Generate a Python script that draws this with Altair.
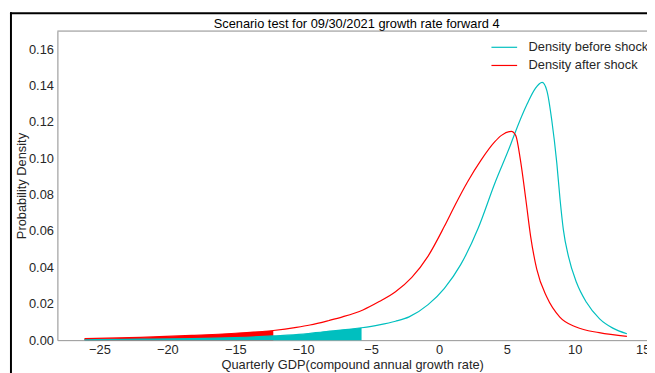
import altair as alt
import pandas as pd

# ---- data ----
series_names = ["Density before shock", "Density after shock"]
series_colors = ["#00BFBF", "#FF0000"]
tail_cutoffs = [-5.7, -12.2]  # shaded left tail end for each series

before_x = [-26.1, -22.0, -18.2, -15.0, -12.2, -10.0, -8.5, -5.7, -4.4, -3.2, -2.2, -0.8,
            0.4, 1.6, 2.9, 4.1, 5.3, 5.5, 6.5, 7.1, 7.6, 7.95, 8.31, 8.68, 8.92, 9.16, 9.53,
            10.13, 10.86, 11.83, 12.8, 13.84]
before_y = [0.0003, 0.0005, 0.0008, 0.0014, 0.0023, 0.0033, 0.0046, 0.0068, 0.0084, 0.0104,
            0.0128, 0.0195, 0.0285, 0.0415, 0.0618, 0.0860, 0.1080, 0.1120, 0.1300, 0.1385,
            0.1417, 0.1371, 0.1208, 0.0972, 0.0772, 0.0608, 0.0462, 0.0317, 0.0208, 0.0117,
            0.0066, 0.0035]

after_x = [-26.1, -22.0, -18.2, -15.0, -12.2, -10.5, -9.5, -8.1, -7.1, -5.6, -4.4, -3.2,
           -2.0, -0.8, 0.4, 1.2, 2.1, 3.1, 4.1, 4.6, 5.33, 5.65, 6.0, 6.4, 6.75, 7.2, 7.95,
           8.9, 10.1, 11.8, 13.84]
after_y = [0.0008, 0.0015, 0.0026, 0.0038, 0.0053, 0.0070, 0.0083, 0.0108, 0.0128, 0.0166,
           0.0212, 0.0266, 0.0345, 0.0462, 0.0626, 0.0745, 0.0870, 0.0990, 0.1090, 0.1126,
           0.1148, 0.1126, 0.0990, 0.0772, 0.0571, 0.0390, 0.0236, 0.0127, 0.0072, 0.0041,
           0.0021]

x_ticks = [-25, -20, -15, -10, -5, 0, 5, 10, 15]
y_ticks = [0.0, 0.02, 0.04, 0.06, 0.08, 0.10, 0.12, 0.14, 0.16]

df = pd.concat([
    pd.DataFrame({"x": before_x, "y": before_y, "series": series_names[0]}),
    pd.DataFrame({"x": after_x, "y": after_y, "series": series_names[1]}),
], ignore_index=True)

FONT = "Liberation Sans"
SPINE = "#9a9a9a"
TXT = "#262626"

x_enc = alt.X("x:Q",
              scale=alt.Scale(domain=[-28.1, 15.32], nice=False, zero=False),
              axis=alt.Axis(values=x_ticks, format="d", title="Quarterly GDP(compound annual growth rate)",
                            grid=False, ticks=False, labelPadding=4, domainColor=SPINE,
                            labelFont=FONT, labelFontSize=13, labelColor=TXT,
                            titleFont=FONT, titleFontSize=13, titleFontWeight="normal",
                            titleColor=TXT, titleY=25, titleBaseline="middle",
                            labelFlush=False))
y_enc = alt.Y("y:Q",
              scale=alt.Scale(domain=[0, 0.17], nice=False),
              axis=alt.Axis(values=y_ticks, format=".2f", title="Probability Density",
                            grid=False, ticks=False, labelPadding=4, domainColor=SPINE,
                            labelFont=FONT, labelFontSize=13, labelColor=TXT,
                            titleFont=FONT, titleFontSize=13, titleFontWeight="normal",
                            titleColor=TXT, titleX=-36, titleY=156.5, titleAngle=270,
                            titleAlign="center", titleBaseline="middle"))

base = alt.Chart(df)

area_after = base.transform_filter(
    f"datum.series == '{series_names[1]}' && datum.x <= {tail_cutoffs[1]}"
).mark_area(interpolate="monotone", color=series_colors[1], opacity=1).encode(x=x_enc, y=y_enc)

area_before = base.transform_filter(
    f"datum.series == '{series_names[0]}' && datum.x <= {tail_cutoffs[0]}"
).mark_area(interpolate="monotone", color=series_colors[0], opacity=1).encode(x=x_enc, y=y_enc)

lines = base.mark_line(interpolate="monotone", strokeWidth=1.2).encode(
    x=x_enc, y=y_enc,
    color=alt.Color("series:N",
                    scale=alt.Scale(domain=series_names, range=series_colors),
                    legend=alt.Legend(title=None, orient="none", legendX=445, legendY=9,
                                      symbolType="M-2,0H2", symbolSize=169, symbolStrokeWidth=1.2,
                                      symbolFillColor="transparent",
                                      labelFont=FONT, labelFontSize=13, labelColor=TXT,
                                      labelOffset=17, rowPadding=3.4, padding=0)),
    detail="series:N",
)

one = alt.Data(values=[{"k": 1}])
top_spine = alt.Chart(one).mark_rule(color=SPINE, strokeWidth=1).encode(
    x=alt.value(0), x2=alt.value(620), y=alt.value(0))
frame_top = alt.Chart(one).mark_rule(color="#000000", strokeWidth=2).encode(
    x=alt.value(-48), x2=alt.value(620), y=alt.value(-18))
frame_left = alt.Chart(one).mark_rule(color="#000000", strokeWidth=2).encode(
    x=alt.value(-47), y=alt.value(-19), y2=alt.value(360))

chart = alt.layer(area_after, area_before, lines, top_spine, frame_top, frame_left).properties(
    width=597, height=313,
    autosize=alt.AutoSizeParams(type="none"),
    padding={"left": 50, "top": 21, "right": 0, "bottom": 31},
    title=alt.TitleParams(text="Scenario test for 09/30/2021 growth rate forward 4",
                          font=FONT, fontSize=13, fontWeight="normal", color="#000000",
                          anchor="middle", frame="group", offset=1, dx=4.5, dy=21),
).configure_view(stroke=None).configure(background="white")

chart.save("out.html", embed_options={"renderer": "svg", "actions": False})
